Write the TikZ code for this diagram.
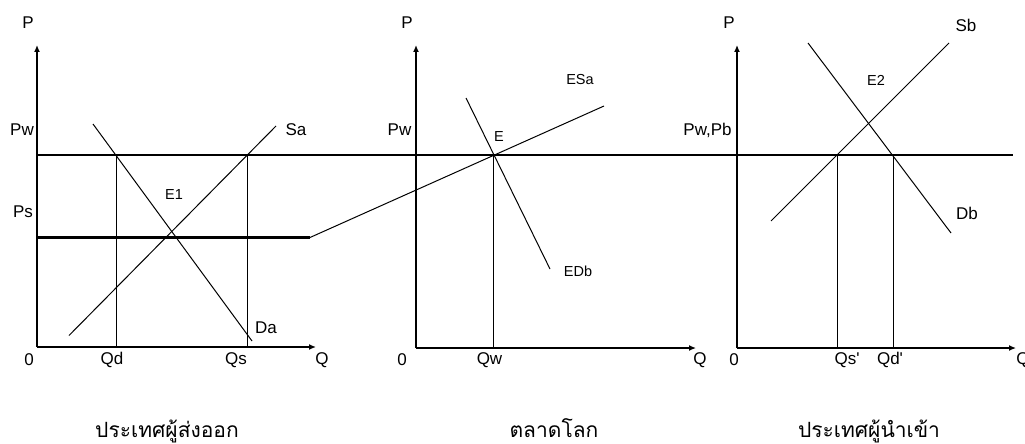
\documentclass[tikz,border=0pt]{standalone}
\usepackage{fontspec}
\setmainfont{Liberation Sans}
\newfontfamily\rotulofont{Liberation Sans}
\newfontfamily\thaifont[Script=Thai]{Loma}
\usepackage{tikz}
\usetikzlibrary{arrows.meta,positioning}
\tikzset{
    eixo/.style={-{Latex[length=7pt,width=6pt]}, line width=1.3pt},
    curva/.style={line width=1pt},
    guia/.style={line width=1pt},
    preco/.style={line width=2.4pt},
    rotulo/.style={inner sep=0pt, font=\rotulofont\fontsize{17}{19}\selectfont},
    rotuloPonto/.style={inner sep=0pt, font=\rotulofont\fontsize{14.5}{17}\selectfont},
    titulo/.style={inner sep=0pt, anchor=base, font=\thaifont\fontsize{21}{24}\selectfont}
}

\begin{document}
\begin{tikzpicture}[x=1pt, y=-1pt]
        \useasboundingbox (0,0) rectangle (1025,444);

        % pontos dos eixos
        \coordinate (origemA) at (37,347);
        \coordinate (topoA) at (37,45);
        \coordinate (fimQA) at (316,347);
        \coordinate (origemM) at (416,348);
        \coordinate (topoM) at (416,45);
        \coordinate (fimQM) at (696,348);
        \coordinate (origemB) at (737,348);
        \coordinate (topoB) at (737,45);
        \coordinate (fimQB) at (1016,348);

        % linhas de preco
        \coordinate (pwIni) at (37,155);
        \coordinate (pwFim) at (1013,155);
        \coordinate (psIni) at (37,237.5);
        \coordinate (psFim) at (310,237.5);

        % curvas
        \coordinate (saIni) at (69,335.5);
        \coordinate (saFim) at (276,126);
        \coordinate (daIni) at (93,124);
        \coordinate (daFim) at (252,341);
        \coordinate (esaFim) at (604,106);
        \coordinate (edbIni) at (466,98);
        \coordinate (edbFim) at (550,269);
        \coordinate (sbIni) at (771,221);
        \coordinate (sbFim) at (949,43);
        \coordinate (dbIni) at (808,43);
        \coordinate (dbFim) at (951,233);

        % quantidades
        \coordinate (qdTopo) at (116,155);
        \coordinate (qdBase) at (116,347);
        \coordinate (qsTopo) at (247,155);
        \coordinate (qsBase) at (247,347);
        \coordinate (qwTopo) at (493,155);
        \coordinate (qwBase) at (493,348);
        \coordinate (qslTopo) at (837,155);
        \coordinate (qslBase) at (837,348);
        \coordinate (qdlTopo) at (893,155);
        \coordinate (qdlBase) at (893,348);

        \draw[eixo] (origemA) -- (topoA);
        \draw[eixo] (origemA) -- (fimQA);
        \draw[eixo] (origemM) -- (topoM);
        \draw[eixo] (origemM) -- (fimQM);
        \draw[eixo] (origemB) -- (topoB);
        \draw[eixo] (origemB) -- (fimQB);

        \draw[preco] (pwIni) -- (pwFim);
        \draw[preco] (psIni) -- (psFim);

        \draw[curva] (saIni) -- (saFim);
        \draw[curva] (daIni) -- (daFim);
        \draw[curva] (psFim) -- (esaFim);
        \draw[curva] (edbIni) -- (edbFim);
        \draw[curva] (sbIni) -- (sbFim);
        \draw[curva] (dbIni) -- (dbFim);

        \draw[guia] (qdTopo) -- (qdBase);
        \draw[guia] (qsTopo) -- (qsBase);
        \draw[guia] (qwTopo) -- (qwBase);
        \draw[guia] (qslTopo) -- (qslBase);
        \draw[guia] (qdlTopo) -- (qdlBase);

        % rotulos - pais exportador
        \node[rotulo] (pA) at (28,23) {P};
        \node[rotulo] (pwA) at (22,130) {Pw};
        \node[rotulo] (psA) at (23,212) {Ps};
        \node[rotulo] (zeroA) at (29,360) {0};
        \node[rotulo] (qdA) at (112,360) {Qd};
        \node[rotulo] (qsA) at (236,360) {Qs};
        \node[rotulo] (qA) at (322,360) {Q};
        \node[rotulo] (saA) at (296,130) {Sa};
        \node[rotulo] (daA) at (266,328) {Da};
        \node[rotuloPonto] (e1A) at (174,195) {E1};

        % rotulos - mercado mundial
        \node[rotulo] (pM) at (407,23) {P};
        \node[rotulo] (pwM) at (399.5,130) {Pw};
        \node[rotulo] (zeroM) at (402,360) {0};
        \node[rotulo] (qwM) at (489.5,360) {Qw};
        \node[rotulo] (qM) at (700,360) {Q};
        \node[rotuloPonto] (eM) at (499,137) {E};
        \node[rotuloPonto] (esaM) at (580,80) {ESa};
        \node[rotuloPonto] (edbM) at (578,271) {EDb};

        % rotulos - pais importador
        \node[rotulo] (pB) at (729,23) {P};
        \node[rotulo] (pwpbB) at (707.5,130) {Pw,Pb};
        \node[rotulo] (zeroB) at (734,360) {0};
        \node[rotulo] (qslB) at (847,360) {Qs'};
        \node[rotulo] (qdlB) at (890,360) {Qd'};
        \node[rotulo] (qB) at (1023,360) {Q};
        \node[rotulo] (sbB) at (966,25) {Sb};
        \node[rotulo] (dbB) at (967,213) {Db};
        \node[rotuloPonto] (e2B) at (876,80) {E2};

        \node[titulo] (tituloA) at (167,437) {ประเทศผู้ส่งออก};
        \node[titulo] (tituloM) at (554,437) {ตลาดโลก};
        \node[titulo] (tituloB) at (869,437) {ประเทศผู้นำเข้า};
    \end{tikzpicture}
\end{document}
